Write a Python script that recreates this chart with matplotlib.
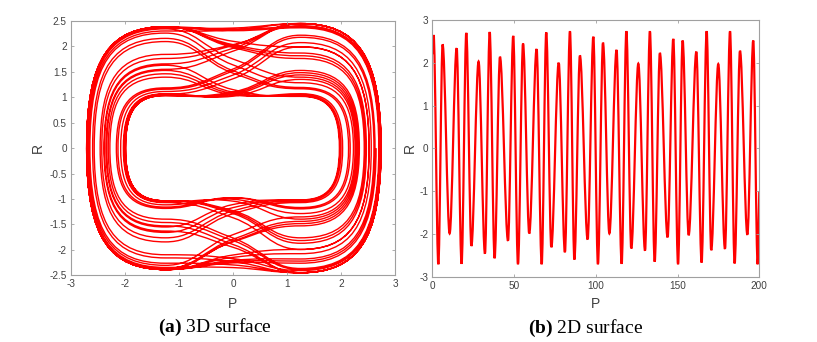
import numpy as np
import matplotlib.pyplot as plt
from matplotlib.path import Path
from matplotlib.patches import PathPatch

plt.rcParams['font.family'] = ['Liberation Sans', 'DejaVu Sans']
plt.rcParams['axes.unicode_minus'] = False
plt.rcParams['mathtext.fontset'] = 'custom'
plt.rcParams['mathtext.rm'] = 'Liberation Serif'
plt.rcParams['mathtext.bf'] = 'Liberation Serif:bold'

# time series: start, alternating peaks / troughs, end
t_start, p_start = 0.0, 2.2
t_end, p_end = 200.0, -1.0
peak_t = [0.8, 6.3, 14.9, 20.8, 28.3, 35.1, 41.4, 49.5, 55.5, 63.8, 69.7, 77.3, 84.2, 90.3, 98.5,
          104.4, 112.7, 118.7, 126.0, 133.1, 139.2, 147.4, 153.1, 161.5, 167.8, 174.9, 182.1, 188.2, 196.3]
peak_p = [2.65, 2.43, 2.34, 2.70, 2.03, 2.72, 2.14, 2.63, 2.45, 2.32, 2.71, 2.00, 2.74, 2.17, 2.61,
          2.47, 2.30, 2.74, 1.98, 2.74, 2.23, 2.56, 2.52, 2.26, 2.74, 1.97, 2.74, 2.28, 2.52]
trough_t = [3.7, 10.6, 17.9, 23.9, 32.2, 38.1, 46.3, 52.4, 59.3, 66.9, 72.8, 81.1, 86.9, 95.0, 101.3,
            108.3, 115.8, 121.7, 130.1, 136.0, 143.9, 150.3, 156.8, 164.7, 170.6, 179.0, 184.9, 192.7, 199.0]
trough_p = [-2.71, -1.99, -2.70, -2.28, -2.46, -2.57, -2.16, -2.71, -1.99, -2.71, -2.31, -2.43, -2.60, -2.13, -2.71,
            -1.99, -2.70, -2.34, -2.39, -2.65, -2.08, -2.71, -2.03, -2.67, -2.38, -2.35, -2.69, -2.02, -2.71]

# panel (a): R level of the side humps and of the centre, per swing amplitude
amp_ref = [1.95, 2.2, 2.35, 2.5, 2.62, 2.75]
hump_ref = [1.0, 1.22, 1.55, 1.95, 2.2, 2.47]
mid_ref = [0.8, 1.02, 1.4, 1.82, 2.1, 2.44]
hump_p = 1.25

RED = '#ff0000'
GRAY = '#a0a0a0'
TXT = '#404040'


def series_path(ts, ps, flat):
    verts = [(ts[0], ps[0])]
    codes = [Path.MOVETO]
    for k in range(len(ts) - 1):
        dt = (ts[k + 1] - ts[k]) / 3
        dp = (ps[k + 1] - ps[k]) / 3
        c1 = (ts[k] + dt, ps[k] + (0 if flat[k] else dp))
        c2 = (ts[k + 1] - dt, ps[k + 1] - (0 if flat[k + 1] else dp))
        verts += [c1, c2, (ts[k + 1], ps[k + 1])]
        codes += [Path.CURVE4] * 3
    return Path(verts, codes)


def phase_path(ext):
    ka, kb, kc = 0.75, 0.7, 0.45
    verts = [(ext[0], 0)]
    codes = [Path.MOVETO]
    for x0, x1 in zip(ext[:-1], ext[1:]):
        s = 1 if x1 > x0 else -1
        h0 = s * np.interp(abs(x0), amp_ref, hump_ref)
        h1 = s * np.interp(abs(x1), amp_ref, hump_ref)
        m = s * (np.interp(abs(x0), amp_ref, mid_ref) + np.interp(abs(x1), amp_ref, mid_ref)) / 2
        bx, dx = -s * hump_p, s * hump_p
        slope = (h1 - h0) / (dx - bx)
        verts += [(x0, ka * h0), (bx + kb * (x0 - bx), h0), (bx, h0)]
        verts += [(bx * (1 - kc), h0), (bx * kc, m + slope * bx * kc), (0, m)]
        verts += [(dx * kc, m + slope * dx * kc), (dx * (1 - kc), h1), (dx, h1)]
        verts += [(dx + kb * (x1 - dx), h1), (x1, ka * h1), (x1, 0)]
        codes += [Path.CURVE4] * 12
    return Path(verts, codes)


def style(ax):
    for sp in ax.spines.values():
        sp.set_color(GRAY)
        sp.set_linewidth(0.8)
    ax.tick_params(direction='in', top=True, right=True, length=2.5, width=0.6,
                   color=GRAY, labelcolor=TXT, labelsize=7.2, pad=3)


ext = []
for a, b in zip(peak_p, trough_p):
    ext += [a, b]

ts = [t_start]
ps = [p_start]
for a, b, c, d in zip(peak_t, peak_p, trough_t, trough_p):
    ts += [a, c]
    ps += [b, d]
ts.append(t_end)
ps.append(p_end)
flat = [False] + [True] * (len(ts) - 2) + [False]

fig = plt.figure(figsize=(8.17, 3.42), dpi=100)
ax1 = fig.add_axes([71 / 817, 1 - 275.3 / 342, 324 / 817, 254.3 / 342])
ax2 = fig.add_axes([432.3 / 817, 1 - 276.7 / 342, 327 / 817, 256.7 / 342])

ax1.add_patch(PathPatch(phase_path(ext), fill=False, edgecolor=RED, lw=1.0))
ax1.set_xlim(-3, 3)
ax1.set_ylim(-2.5, 2.5)
xt = np.arange(-3, 4, 1)
yt = np.arange(-2.5, 2.6, 0.5)
ax1.set_xticks(xt, [f'{v:g}' for v in xt])
ax1.set_yticks(yt, [f'{v:g}' for v in yt])
style(ax1)
ax1.set_xlabel('P', fontsize=10, color=TXT)
ax1.set_ylabel('R', fontsize=10, color=TXT)
ax1.xaxis.set_label_coords(0.5, -0.085)
ax1.yaxis.set_label_coords(-0.08, 0.5)

ax2.add_patch(PathPatch(series_path(ts, ps, flat), fill=False, edgecolor=RED, lw=1.6))
ax2.set_xlim(0, 200)
ax2.set_ylim(-3, 3)
xt2 = np.arange(0, 201, 50)
yt2 = np.arange(-3, 4, 1)
ax2.set_xticks(xt2, [f'{v:g}' for v in xt2])
ax2.set_yticks(yt2, [f'{v:g}' for v in yt2])
style(ax2)
ax2.set_xlabel('P', fontsize=10, color=TXT)
ax2.set_ylabel('R', fontsize=10, color=TXT)
ax2.xaxis.set_label_coords(0.5, -0.08)
ax2.yaxis.set_label_coords(-0.046, 0.5)

fig.text(215 / 817, 1 - 327 / 342, r'$\mathbf{(a)}$ 3D surface', ha='center', va='center',
         fontsize=14, family='Liberation Serif')
fig.text(585.5 / 817, 1 - 328 / 342, r'$\mathbf{(b)}$ 2D surface', ha='center', va='center',
         fontsize=14, family='Liberation Serif')

fig.savefig('out.png', dpi=100)
